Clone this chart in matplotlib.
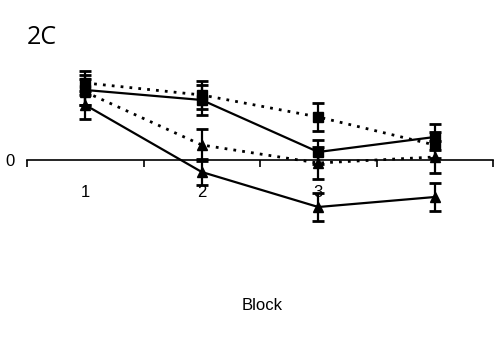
import matplotlib.pyplot as plt
import numpy as np

blocks = [1, 2, 3, 4]
block_labels = ['1', '2', '3']

# values (arbitrary units, 0 = axis line)
sq_solid = [7.0, 6.0, 0.8, 2.3]
sq_solid_err = [1.5, 1.5, 1.2, 1.3]
sq_dot = [7.7, 6.5, 4.3, 1.5]
sq_dot_err = [1.2, 1.4, 1.4, 1.3]
tri_dot = [6.8, 1.5, -0.3, 0.3]
tri_dot_err = [1.3, 1.6, 1.6, 1.6]
tri_solid = [5.5, -1.2, -4.7, -3.7]
tri_solid_err = [1.4, 1.3, 1.4, 1.4]

plt.rcParams['font.family'] = ['Liberation Sans', 'DejaVu Sans']
fig = plt.figure(figsize=(5, 3.58), dpi=100)
ax = fig.add_axes([0.054, 0.3575, 0.932, 0.475])

def series(y, e, marker, ls):
    ax.errorbar(blocks, y, yerr=e, color='black', marker=marker, markersize=6.5,
                linestyle=ls, linewidth=1.6 if ls == '-' else 2.0,
                elinewidth=1.6, capsize=4, capthick=2)

series(sq_dot, sq_dot_err, 's', (0, (1, 2.2)))
series(tri_dot, tri_dot_err, '^', (0, (1, 2.2)))
series(sq_solid, sq_solid_err, 's', '-')
series(tri_solid, tri_solid_err, '^', '-')

ax.set_xlim(0.5, 4.5)
ax.set_ylim(-7, 10)
for s in ['top', 'right', 'left']:
    ax.spines[s].set_visible(False)
ax.spines['bottom'].set_position(('data', 0))
ax.spines['bottom'].set_linewidth(1.2)

ax.set_xticks([0.5, 1.5, 2.5, 3.5, 4.5])
ax.set_xticklabels([])
ax.tick_params(axis='x', which='major', direction='out', length=5, width=1.2)
ax.set_xticks([1, 2, 3], minor=True)
ax.set_xticklabels(block_labels, minor=True)
ax.tick_params(axis='x', which='minor', length=0, pad=18, labelsize=12)

ax.set_yticks([0])
ax.set_yticklabels(['0'])
ax.tick_params(axis='y', length=0, pad=9, labelsize=12)

fig.text(27 / 500, 1 - 38 / 358, '2C', fontsize=18, va='center', ha='left',
         family=['Open Sans', 'DejaVu Sans'])
fig.text(262 / 500, 1 - 305 / 358, 'Block', fontsize=12, va='center', ha='center')

fig.savefig('out.png', dpi=100)
